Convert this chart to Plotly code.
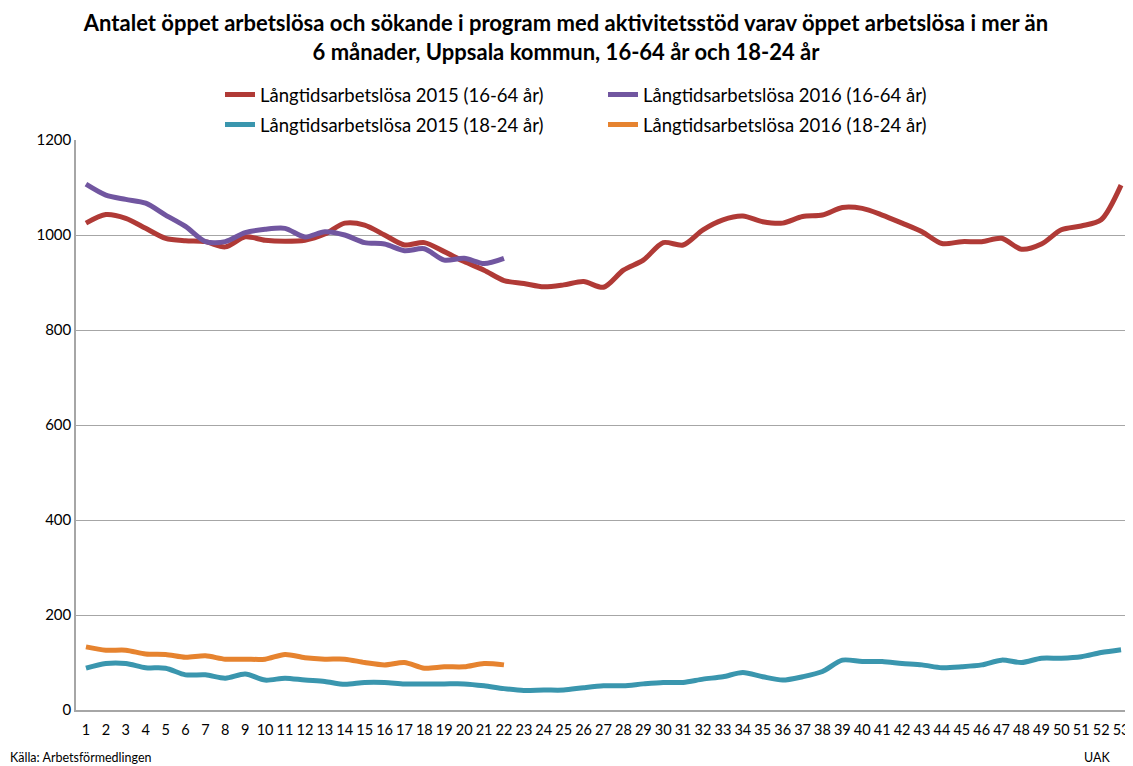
import plotly.graph_objects as go

weeks = list(range(1, 54))
week_labels = [str(w) for w in weeks]

red_2015_1664 = [1025, 1043, 1035, 1014, 993, 988, 986, 975, 996, 989,
                 987, 989, 1002, 1025, 1021, 1000, 979, 984, 965, 944,
                 926, 904, 898, 891, 895, 902, 890, 926, 947, 984,
                 979, 1011, 1032, 1040, 1028, 1025, 1039, 1042, 1058, 1056,
                 1042, 1025, 1007, 982, 986, 986, 993, 970, 981, 1011,
                 1019, 1032, 1105]

purple_2016_1664 = [1107, 1084, 1075, 1067, 1042, 1018, 986, 986, 1005, 1012,
                    1014, 996, 1007, 1000, 984, 981, 967, 971, 947, 951,
                    940, 951]

teal_2015_1824 = [88, 98, 98, 89, 88, 74, 74, 67, 76, 63,
                  67, 63, 60, 54, 58, 58, 55, 55, 55, 55,
                  51, 45, 41, 42, 42, 47, 51, 51, 55, 58,
                  58, 65, 70, 79, 70, 63, 70, 81, 105, 102,
                  102, 98, 95, 89, 91, 95, 105, 100, 109, 109,
                  112, 121, 127]

orange_2016_1824 = [133, 126, 126, 118, 117, 111, 114, 107, 107, 107,
                    117, 110, 107, 107, 100, 95, 100, 88, 91, 91,
                    98, 95]

names = ["Långtidsarbetslösa 2015 (16-64 år)", "Långtidsarbetslösa 2016 (16-64 år)",
         "Långtidsarbetslösa 2015 (18-24 år)", "Långtidsarbetslösa 2016 (18-24 år)"]
colors = ["#B03A36", "#7156A0", "#3A96AE", "#E6832F"]
series = [red_2015_1664, purple_2016_1664, teal_2015_1824, orange_2016_1824]
legends = ["legend", "legend", "legend2", "legend2"]

FONT = "Lato, Carlito, Calibri, sans-serif"

fig = go.Figure()
for name, col, vals, lg in zip(names, colors, series, legends):
    fig.add_trace(go.Scatter(
        x=weeks[:len(vals)], y=vals, name=name, mode="lines",
        line=dict(color=col, width=5, shape="spline", smoothing=0.8),
        legend=lg,
    ))

OFF = 8  # page body margin
W, H = 1133 - OFF, 766 - OFF
L = 76 - OFF
R = W - (1131 - OFF)
T = 140 - OFF
B = H - (710 - OFF)
pw = W - L - R
ph = H - T - B

def px_x(x):
    return (x - OFF - L) / pw

def px_y(y):
    return (H - B - (y - OFF)) / ph

fig.update_layout(
    width=W, height=H,
    margin=dict(l=L, r=R, t=T, b=B),
    plot_bgcolor="white", paper_bgcolor="white",
    font=dict(family=FONT, color="black", size=14),
    title=dict(
        text="Antalet öppet arbetslösa och sökande i program med aktivitetsstöd varav öppet arbetslösa i mer än<br>6 månader, Uppsala kommun, 16-64 år och 18-24 år",
        x=(566 - OFF) / W, xref="container", xanchor="center",
        y=1 - (31 - OFF) / H, yref="container", yanchor="top",
        font=dict(family=FONT, size=22, color="black", weight="bold"),
    ),
    legend=dict(
        orientation="h", x=px_x(220), y=px_y(95), xanchor="left", yanchor="middle",
        entrywidth=338, entrywidthmode="pixels",
        font=dict(family=FONT, size=18.5, color="black"),
        bgcolor="rgba(0,0,0,0)",
    ),
    legend2=dict(
        orientation="h", x=px_x(220), y=px_y(125), xanchor="left", yanchor="middle",
        entrywidth=338, entrywidthmode="pixels",
        font=dict(family=FONT, size=18.5, color="black"),
        bgcolor="rgba(0,0,0,0)",
    ),
    xaxis=dict(
        range=[0.5, 53.5], tickmode="array", tickvals=weeks, ticktext=week_labels,
        showgrid=False, showline=True, linecolor="#A6A6A6", linewidth=1.5,
        ticks="", ticklabelstandoff=6, tickfont=dict(family=FONT, size=14.5, color="black"),
        zeroline=False, fixedrange=True,
    ),
    yaxis=dict(
        range=[0, 1200], dtick=200, showgrid=True, gridcolor="#A6A6A6", gridwidth=1,
        showline=True, linecolor="#A6A6A6", linewidth=1.5, ticks="",
        tickfont=dict(family=FONT, size=15, color="black"),
        zeroline=False, fixedrange=True,
    ),
    annotations=[
        dict(text="Källa: Arbetsförmedlingen", xref="paper", yref="paper",
             x=px_x(8), y=px_y(757), xanchor="left", yanchor="middle",
             showarrow=False, font=dict(family=FONT, size=12.5, color="black")),
        dict(text="UAK", xref="paper", yref="paper",
             x=px_x(1082), y=px_y(757), xanchor="left", yanchor="middle",
             showarrow=False, font=dict(family=FONT, size=12.5, color="black")),
    ],
)

fig.write_html("out.html")
